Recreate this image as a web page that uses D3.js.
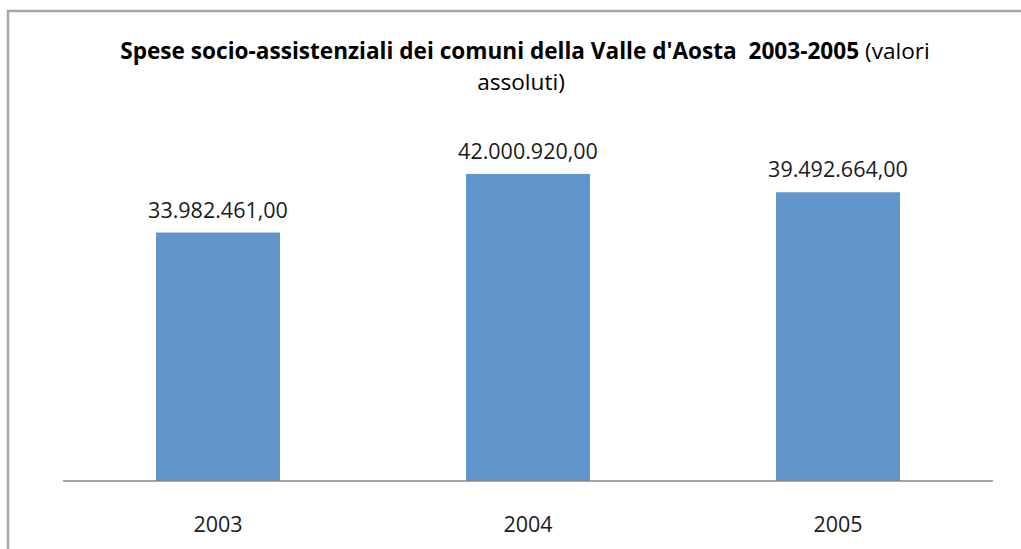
<!DOCTYPE html>
<html><head><meta charset="utf-8">
<script src="https://cdn.jsdelivr.net/npm/d3@7/dist/d3.min.js"></script>
<style>html,body{margin:0;padding:0;background:#fff;overflow:hidden;width:1021px;height:549px}svg{display:block}</style>
</head><body>
<svg id="c" width="1021" height="549"></svg>
<script>
const categories = ["2003", "2004", "2005"];
const values = [33982461.00, 42000920.00, 39492664.00];
const valueLabels = ["33.982.461,00", "42.000.920,00", "39.492.664,00"];
const titleBold = "Spese socio-assistenziali dei comuni della Valle d'Aosta  2003-2005";
const titleNormal = " (valori";
const titleLine2 = "assoluti)";

const svg = d3.select("#c");
const font = "'Open Sans', 'Noto Sans', sans-serif";

// chart border (left and top edges visible)
svg.append("path").attr("d", "M8,549V11H1021").attr("fill", "none")
  .attr("stroke", "#a6a6a6").attr("stroke-width", 2.5);

const x0 = 63, x1 = 993, yBase = 481;
const x = d3.scaleBand().domain(categories).range([x0, x1]).paddingInner(0.6).paddingOuter(0.3);
const y = d3.scaleLinear().domain([0, 45000000]).range([yBase, yBase - 329]);

const g = svg.append("g");
g.selectAll("rect.bar").data(values).join("rect").attr("class", "bar")
  .attr("x", (d, i) => x(categories[i])).attr("width", x.bandwidth())
  .attr("y", d => y(d)).attr("height", d => y(0) - y(d))
  .attr("fill", "#6096cb");

// axis
const axis = d3.axisBottom(x).tickSize(0).tickPadding(0);
const ag = g.append("g").attr("transform", `translate(0,${yBase})`).call(axis);
ag.select(".domain").attr("stroke", "#878787").attr("stroke-width", 1.5).attr("d", `M${x0},0H${x1}`);
ag.selectAll(".tick text").attr("font-family", font).attr("font-size", 21.5)
  .attr("fill", "#1a1a1a").attr("dy", 0).attr("y", 51);

// value labels
g.selectAll("text.val").data(values).join("text").attr("class", "val")
  .attr("x", (d, i) => x(categories[i]) + x.bandwidth() / 2)
  .attr("y", d => y(d) - 15)
  .attr("text-anchor", "middle").attr("font-family", font).attr("font-size", 21.5)
  .attr("fill", "#1a1a1a").text((d, i) => valueLabels[i]);

// title
const t = svg.append("text").attr("x", 525).attr("y", 59).attr("text-anchor", "middle")
  .attr("font-family", font).attr("font-size", 22.6).attr("fill", "#000")
  .style("white-space", "pre");
t.append("tspan").attr("font-weight", "bold").text(titleBold);
t.append("tspan").attr("font-weight", "normal").text(titleNormal);
svg.append("text").attr("x", 521).attr("y", 90).attr("text-anchor", "middle")
  .attr("font-family", font).attr("font-size", 22.6).attr("fill", "#000").text(titleLine2);
</script>
</body></html>
